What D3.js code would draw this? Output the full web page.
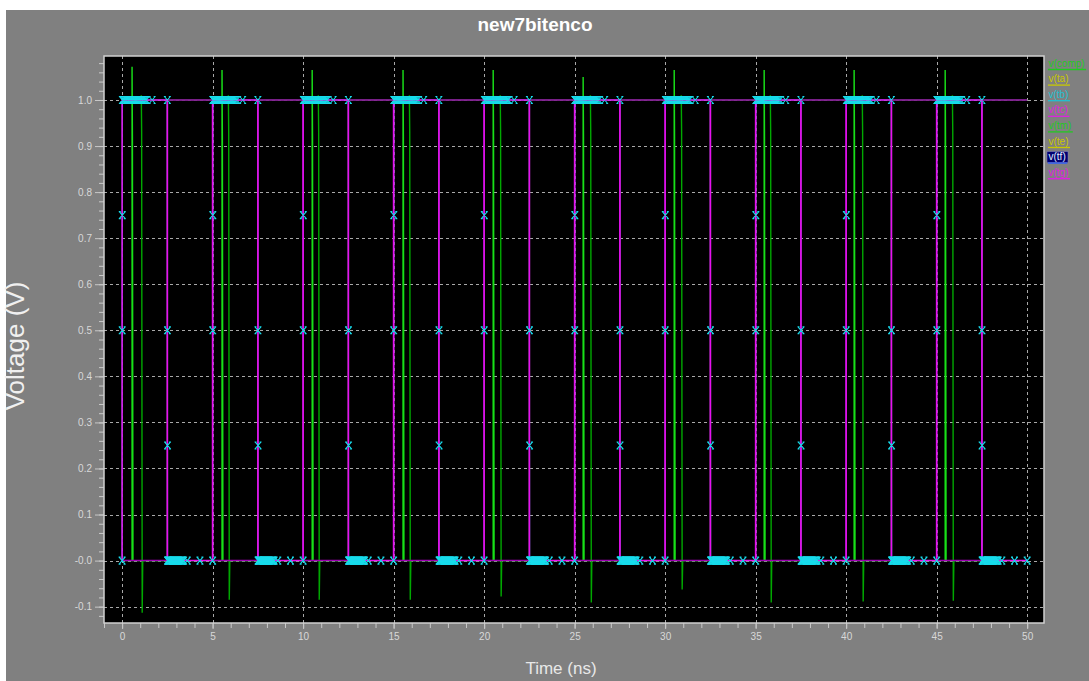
<!DOCTYPE html>
<html lang="en">
<head>
    <meta charset="UTF-8">
    <title>new7bitenco</title>
    <script src="https://d3js.org/d3.v7.min.js"></script>
    <style>
        body { margin: 0; background: #fff; }
        svg { display: block; }
        .tick text { fill: #d8d8d8; font-family: "Liberation Sans Narrow", "Liberation Sans", Arial, sans-serif; font-size: 10px; }
        .tick line { stroke: #c8c8c8; }
    </style>
</head>
<body>
    <svg width="1089" height="681"></svg>
    <script>
        // edges of the 5 ns square wave (ns)
        const riseTimes = [0, 5, 10, 15, 20, 25, 30, 35, 40, 45];
        const fallTimes = [2.5, 7.5, 12.5, 17.5, 22.5, 27.5, 32.5, 37.5, 42.5, 47.5];
        const endTime = 50;

        // sample points of v(tb) after each edge (ns offsets)
        const riseLevels = [0, 0.5, 0.75, 1];
        const fallLevels = [1, 0.5, 0.25, 0];
        const edgeOffsets = [0, 0.005, 0.01, 0.015];
        const highSamples = [0.03, 0.07, 0.12, 0.17, 0.22, 0.27, 0.33, 0.38, 0.44, 0.5, 0.56, 0.62, 0.68,
            0.74, 0.8, 0.86, 0.92, 0.98, 1.04, 1.1, 1.16, 1.22, 1.28, 1.34, 1.66];
        const lowSamples = [0.03, 0.07, 0.12, 0.18, 0.24, 0.3, 0.36, 0.42, 0.48, 0.54, 0.6, 0.66, 0.72,
            0.78, 0.84, 0.9, 1.1, 1.8];

        // glitches on the green outputs
        const compTimes = [0.55, 5.52, 10.5, 15.52, 20.5, 25.47, 30.5, 35.47, 40.44, 45.47];
        const compPeaks = [1.072, 1.065, 1.065, 1.065, 1.065, 1.05, 1.065, 1.065, 1.065, 1.065];
        const compKnee = 0.92;
        const tmTimes = [1.05, 5.86, 10.83, 15.86, 20.88, 25.86, 30.88, 35.8, 40.88, 45.86];
        const tmDips = [-0.113, -0.085, -0.085, -0.085, -0.078, -0.091, -0.063, -0.091, -0.089, -0.087];
        const tmKnee = 0.93;

        const xMajor = [0, 5, 10, 15, 20, 25, 30, 35, 40, 45, 50];
        const yMajor = [-0.1, 0, 0.1, 0.2, 0.3, 0.4, 0.5, 0.6, 0.7, 0.8, 0.9, 1.0];
        const yTickLabels = ["-0.1", "-0.0", "0.1", "0.2", "0.3", "0.4", "0.5", "0.6", "0.7", "0.8", "0.9", "1.0"];

        const legendNames = ["v(comp)", "v(ta)", "v(tb)", "v(tc)", "v(tm)", "v(te)", "v(tf)", "v(tg)"];
        const legendColors = ["#22c822", "#c8c800", "#20c0d0", "#e020e0", "#22c822", "#c8c800", "#3060ff", "#e020e0"];

        const plot = { left: 104, top: 56, right: 1044, bottom: 623 };

        const svg = d3.select("svg");

        const x = d3.scaleLinear().domain([-1, 50.93]).range([plot.left, plot.right]);
        const y = d3.scaleLinear().domain([-0.1355, 1.0955]).range([plot.bottom, plot.top]);

        // background
        svg.append("rect").attr("x", 6).attr("y", 10).attr("width", 1083).attr("height", 671).attr("fill", "#808080");
        svg.append("rect").attr("x", plot.left).attr("y", plot.top)
            .attr("width", plot.right - plot.left).attr("height", plot.bottom - plot.top)
            .attr("fill", "#000");

        // grid
        const grid = svg.append("g").attr("stroke", "#a8a8a8").attr("stroke-dasharray", "3,3").attr("stroke-width", 1);
        grid.selectAll(".gx").data(xMajor).join("line")
            .attr("x1", d => Math.round(x(d)) + 0.5).attr("x2", d => Math.round(x(d)) + 0.5)
            .attr("y1", plot.top).attr("y2", plot.bottom);
        grid.selectAll(".gy").data(yMajor).join("line")
            .attr("y1", d => Math.round(y(d)) + 0.5).attr("y2", d => Math.round(y(d)) + 0.5)
            .attr("x1", plot.left).attr("x2", plot.right);

        // axes
        const yAxisMinor = d3.axisLeft(y).tickValues(y.ticks(60)).tickSize(5).tickFormat("");
        const yAxisMajor = d3.axisLeft(y).tickValues(yMajor).tickSize(9).tickPadding(3)
            .tickFormat((d, i) => yTickLabels[i]);
        svg.append("g").attr("transform", `translate(${plot.left},0)`).call(yAxisMinor)
            .call(g => g.select(".domain").remove());
        svg.append("g").attr("transform", `translate(${plot.left},0)`).call(yAxisMajor)
            .call(g => g.select(".domain").remove());

        const xAxisMinor = d3.axisBottom(x).tickValues(x.ticks(50)).tickSize(5).tickFormat("");
        const xAxisMajor = d3.axisBottom(x).tickValues(xMajor).tickSize(6).tickPadding(4);
        svg.append("g").attr("transform", `translate(0,${plot.bottom})`).call(xAxisMinor)
            .call(g => g.select(".domain").remove());
        svg.append("g").attr("transform", `translate(0,${plot.bottom})`).call(xAxisMajor)
            .call(g => g.select(".domain").remove());

        // build waveforms
        const tc = [], tg = [], tb = [];
        riseTimes.forEach((r, i) => {
            const f = fallTimes[i];
            tc.push([r, 0], [r, 1], [f, 1], [f, 0]);
            tg.push([r, 1], [r, 0], [f, 0], [f, 1]);
            riseLevels.forEach((v, j) => tb.push([r + edgeOffsets[j], v]));
            highSamples.forEach(o => tb.push([r + o, 1]));
            fallLevels.forEach((v, j) => tb.push([f + edgeOffsets[j], v]));
            lowSamples.forEach(o => tb.push([f + o, 0]));
        });
        tc.push([endTime, 0]);
        tg.shift(); tg.unshift([0, 0]);
        tg.push([endTime, 1]);
        tb.push([endTime, 0]);

        const comp = [[0, 0]];
        compTimes.forEach((t, i) => {
            comp.push([t, 0], [t, compPeaks[i]], [t + 0.02, compKnee], [t + 0.05, 0]);
        });
        comp.push([endTime, 0]);

        const tm = [[0, 1]];
        tmTimes.forEach((t, i) => {
            const r = riseTimes[i] + 2.5;
            tm.push([t, 1], [t + 0.01, 1.01], [t + 0.03, tmKnee], [t + 0.06, tmDips[i]], [t + 0.09, 0], [r, 0], [r, 1]);
        });
        tm.push([endTime, 1]);

        const line = d3.line().x(d => x(d[0])).y(d => y(d[1]));
        const traces = svg.append("g").attr("fill", "none");

        traces.append("path").datum(tm).attr("d", line).attr("stroke", "#00a800").attr("stroke-width", 1.4);
        traces.append("path").datum(comp).attr("d", line).attr("stroke", "#18e018").attr("stroke-width", 1.4);
        traces.append("path").datum(tb).attr("d", line).attr("stroke", "#20c0d0").attr("stroke-width", 1);
        traces.append("path").datum(tg).attr("d", line).attr("stroke", "#a000b4").attr("stroke-width", 1.5);
        traces.append("path").datum(tc).attr("d", line).attr("stroke", "#e810f0").attr("stroke-width", 1.5);

        // markers of v(tb)
        svg.append("g").attr("stroke", "#18dcec").attr("stroke-width", 1.1).attr("fill", "none")
            .selectAll("path").data(tb).join("path")
            .attr("transform", d => `translate(${x(d[0])},${y(d[1])})`)
            .attr("d", "M-3,-3.5L3,3.5M3,-3.5L-3,3.5M-3.5,-3.5H-1.5M1.5,-3.5H3.5M-3.5,3.5H-1.5M1.5,3.5H3.5");

        // frame
        svg.append("rect").attr("x", plot.left).attr("y", plot.top)
            .attr("width", plot.right - plot.left).attr("height", plot.bottom - plot.top)
            .attr("fill", "none").attr("stroke", "#d0d0d0").attr("stroke-width", 1.5);

        // titles
        svg.append("text").attr("x", 535).attr("y", 31).attr("text-anchor", "middle")
            .attr("fill", "#fff").attr("font-family", "Liberation Sans, Arial, sans-serif")
            .attr("font-weight", "bold").attr("font-size", 19).text("new7bitenco");
        svg.append("text").attr("transform", "translate(24,346) rotate(-90)").attr("text-anchor", "middle")
            .attr("fill", "#f0f0f0").attr("font-family", "Liberation Sans, Arial, sans-serif")
            .attr("font-size", 26).text("Voltage (V)");
        svg.append("text").attr("x", 561).attr("y", 674).attr("text-anchor", "middle")
            .attr("fill", "#e8e8e8").attr("font-family", "Liberation Sans Narrow, Liberation Sans, Arial, sans-serif")
            .attr("font-size", 17).text("Time (ns)");

        // legend
        const legend = svg.append("g").attr("font-family", "Liberation Sans Narrow, Liberation Sans, Arial, sans-serif")
            .attr("font-size", 10);
        legendNames.forEach((name, i) => {
            const base = 69 + i * 15.6;
            const g = legend.append("g");
            if (name === "v(tf)") {
                g.append("rect").attr("x", 1047).attr("y", base - 11).attr("width", 21).attr("height", 11)
                    .attr("fill", "#000070").attr("stroke", "#8080c0").attr("stroke-width", 0.5);
            }
            const t = g.append("text").attr("x", 1048.5).attr("y", base - 2.5)
                .attr("fill", name === "v(tf)" ? "#e0f0ff" : legendColors[i]).text(name);
            const w = t.node().getComputedTextLength();
            g.append("line").attr("x1", 1048).attr("x2", 1050 + w).attr("y1", base + 0.5).attr("y2", base + 0.5)
                .attr("stroke", legendColors[i]).attr("stroke-width", 1.3);
        });
    </script>
</body>
</html>
